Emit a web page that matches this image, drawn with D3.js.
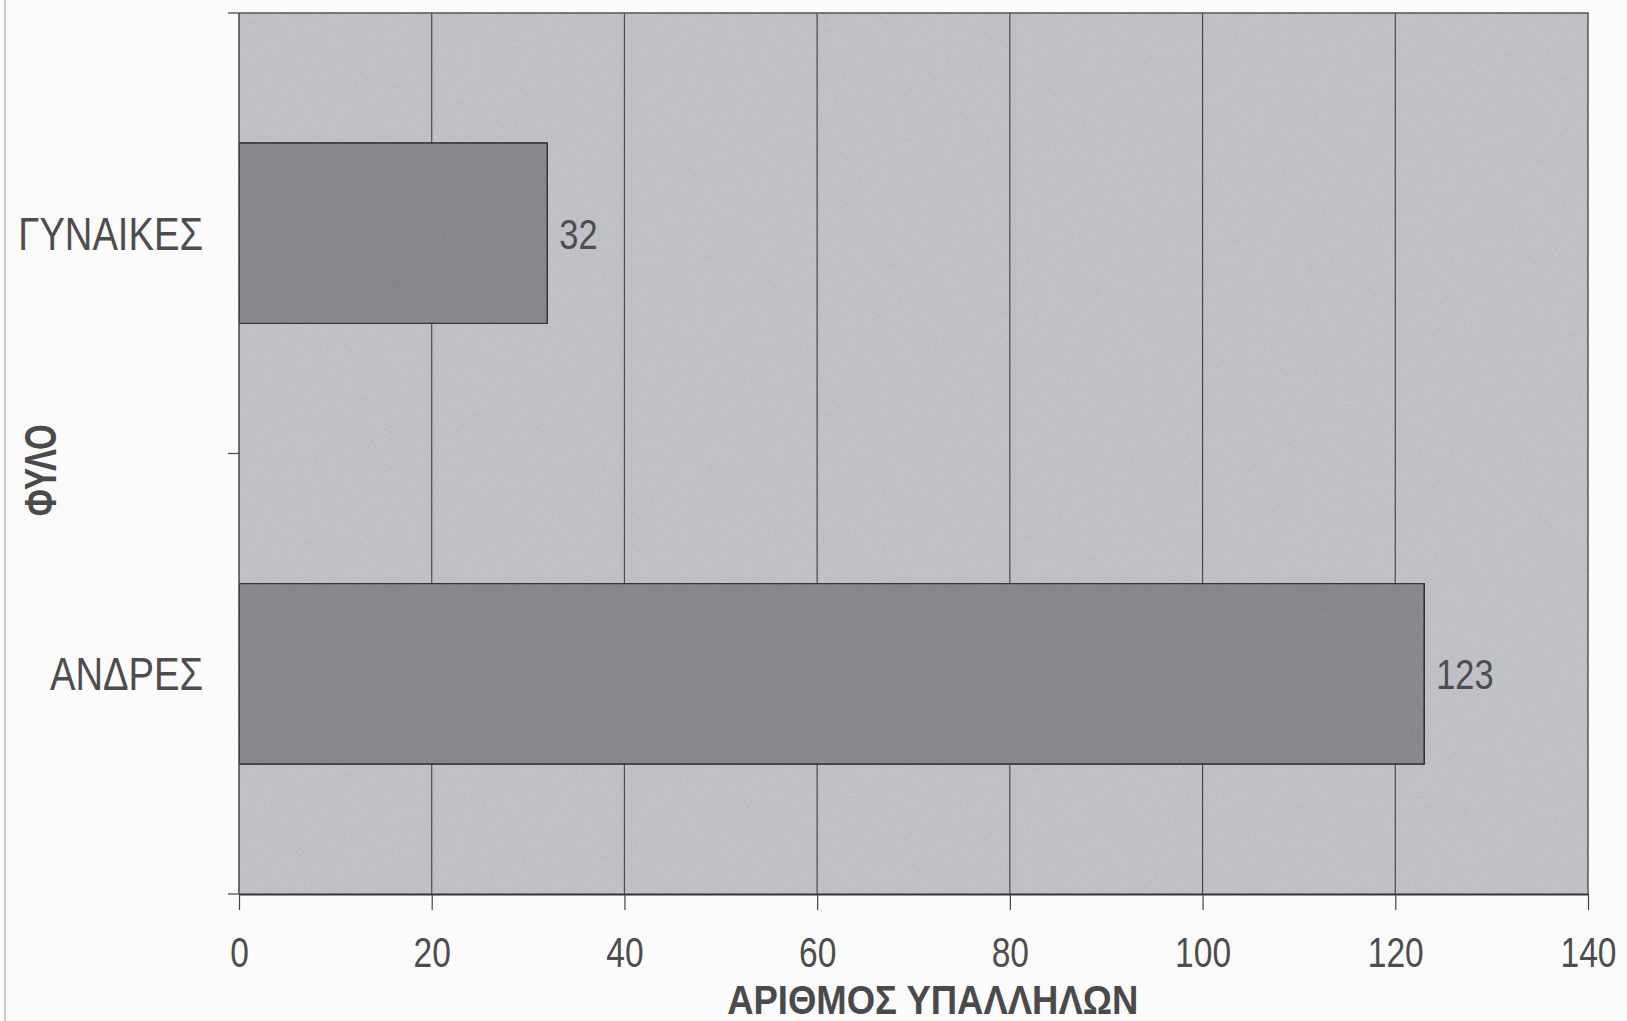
<!DOCTYPE html>
<html>
<head>
<meta charset="utf-8">
<script src="https://cdn.jsdelivr.net/npm/d3@7"></script>
<style>
  body { margin: 0; background: #fbfbfb; }
  svg { display: block; }
  text { font-family: "Liberation Sans", Arial, sans-serif; }
</style>
</head>
<body>
<div id="chart"></div>
<script>
// data
var categories = ["ΓΥΝΑΙΚΕΣ", "ΑΝΔΡΕΣ"];
var values = [32, 123];
var xTicks = [0, 20, 40, 60, 80, 100, 120, 140];
var xTitle = "ΑΡΙΘΜΟΣ ΥΠΑΛΛΗΛΩΝ";
var yTitle = "ΦΥΛΟ";

var width = 1627;
var height = 1021;
var margin = {top: 13, right: 39, bottom: 127, left: 239};
var innerW = width - margin.left - margin.right;
var innerH = height - margin.top - margin.bottom;

var svg = d3.select("#chart").append("svg")
  .attr("width", width)
  .attr("height", height);

// grain to look a bit like the photocopy
var defs = svg.append("defs");
var grain = defs.append("filter").attr("id", "grain")
  .attr("x", 0).attr("y", 0).attr("width", 1).attr("height", 1);
grain.append("feTurbulence")
  .attr("type", "fractalNoise").attr("baseFrequency", 0.9)
  .attr("numOctaves", 2).attr("seed", 4).attr("result", "noise");
grain.append("feColorMatrix").attr("in", "noise").attr("type", "matrix")
  .attr("values", "0 0 0 0 0  0 0 0 0 0  0 0 0 0 0  0 0 0 0.22 0")
  .attr("result", "dots");
grain.append("feComposite").attr("in", "dots").attr("in2", "SourceGraphic")
  .attr("operator", "in").attr("result", "dotsIn");
grain.append("feMerge").selectAll("feMergeNode")
  .data(["SourceGraphic", "dotsIn"]).enter()
  .append("feMergeNode").attr("in", function(d) { return d; });

// scanner edge on the far left
svg.append("line")
  .attr("x1", 5).attr("x2", 5).attr("y1", 0).attr("y2", height)
  .attr("stroke", "#b8b8b8").attr("stroke-width", 1.5);

var g = svg.append("g")
  .attr("transform", "translate(" + margin.left + "," + margin.top + ")");

var x = d3.scaleLinear().domain([0, 140]).range([0, innerW]);
var y = d3.scaleBand().domain(categories).range([0, innerH])
  .paddingInner(0.59).paddingOuter(0.295);

// plot area
g.append("rect")
  .attr("width", innerW).attr("height", innerH)
  .attr("fill", "#cacbd0")
  .attr("filter", "url(#grain)");

// vertical gridlines
g.selectAll(".grid")
  .data(xTicks.filter(function(d) { return d > 0 && d < 140; }))
  .enter().append("line")
  .attr("class", "grid")
  .attr("x1", function(d) { return x(d); })
  .attr("x2", function(d) { return x(d); })
  .attr("y1", 0).attr("y2", innerH)
  .attr("stroke", "#4a4a4a").attr("stroke-width", 1.2);

// bars
g.selectAll(".bar")
  .data(values)
  .enter().append("rect")
  .attr("class", "bar")
  .attr("x", 0)
  .attr("y", function(d, i) { return y(categories[i]); })
  .attr("width", function(d) { return x(d); })
  .attr("height", y.bandwidth())
  .attr("fill", "#909094")
  .attr("stroke", "#3a3a3a").attr("stroke-width", 1.6)
  .attr("filter", "url(#grain)");

// value labels
g.selectAll(".val")
  .data(values)
  .enter().append("text")
  .attr("class", "val")
  .attr("transform", function(d, i) {
    return "translate(" + (x(d) + 12) + "," + (y(categories[i]) + y.bandwidth() / 2) + ") scale(0.8,1)";
  })
  .attr("dy", "0.36em")
  .attr("font-size", 43)
  .attr("fill", "#4d4d4d")
  .text(function(d) { return d; });

// border: top and right
g.append("path")
  .attr("d", "M0,0H" + innerW + "V" + innerH)
  .attr("fill", "none").attr("stroke", "#555").attr("stroke-width", 1.5);

// x axis
var xAxis = g.append("g")
  .attr("transform", "translate(0," + innerH + ")")
  .call(d3.axisBottom(x).tickValues(xTicks).tickSize(16).tickPadding(26).tickSizeOuter(0));
xAxis.select(".domain").attr("stroke", "#333").attr("stroke-width", 2.2);
xAxis.selectAll(".tick line").attr("stroke", "#444").attr("stroke-width", 1.2);
xAxis.selectAll(".tick text")
  .attr("font-size", 43)
  .attr("font-family", "'Liberation Sans', Arial, sans-serif")
  .attr("fill", "#4d4d4d")
  .attr("transform", "scale(0.78,1)");

// y axis line and ticks between categories
g.append("line")
  .attr("x1", 0).attr("x2", 0).attr("y1", 0).attr("y2", innerH)
  .attr("stroke", "#444").attr("stroke-width", 1.5);
var gap = (y.step() - y.bandwidth()) / 2;
var yBounds = [0].concat(categories.map(function(c) { return y(c) + y.bandwidth() + gap; }));
g.selectAll(".ytick")
  .data(yBounds)
  .enter().append("line")
  .attr("class", "ytick")
  .attr("x1", -11).attr("x2", 0)
  .attr("y1", function(d) { return d; })
  .attr("y2", function(d) { return d; })
  .attr("stroke", "#444").attr("stroke-width", 1.2);

// category labels
g.selectAll(".cat")
  .data(categories)
  .enter().append("text")
  .attr("class", "cat")
  .attr("transform", function(d) {
    return "translate(-36," + (y(d) + y.bandwidth() / 2) + ") scale(0.83,1)";
  })
  .attr("dy", "0.36em")
  .attr("text-anchor", "end")
  .attr("font-size", 46)
  .attr("fill", "#4d4d4d")
  .text(function(d) { return d; });

// axis titles
svg.append("text")
  .attr("transform", "translate(" + (margin.left + x(72)) + ",999) scale(0.89,1)")
  .attr("dy", "0.36em")
  .attr("text-anchor", "middle")
  .attr("font-size", 41)
  .attr("font-weight", "bold")
  .attr("fill", "#4a4a4a")
  .text(xTitle);

svg.append("text")
  .attr("transform", "translate(40," + (margin.top + innerH * 0.519) + ") rotate(-90) scale(0.75,1)")
  .attr("dy", "0.36em")
  .attr("text-anchor", "middle")
  .attr("font-size", 44)
  .attr("font-weight", "bold")
  .attr("fill", "#4a4a4a")
  .text(yTitle);
</script>
</body>
</html>
